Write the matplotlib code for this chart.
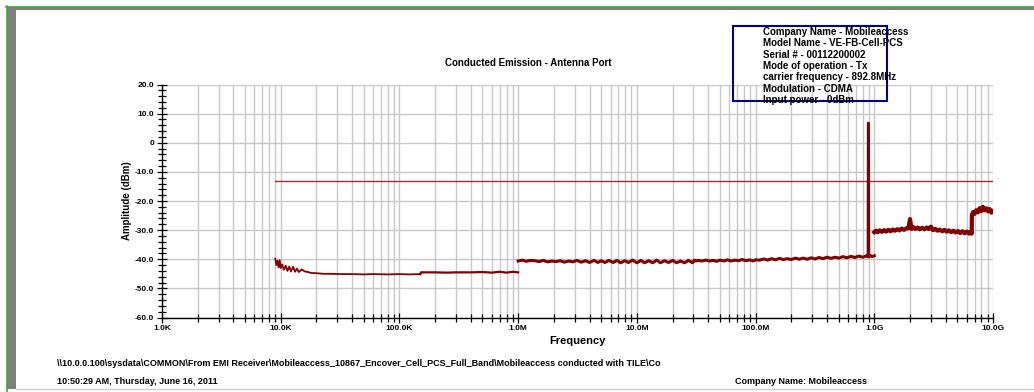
import matplotlib
matplotlib.use("Agg")
import matplotlib.pyplot as plt
from matplotlib.patches import Rectangle
from matplotlib.ticker import FixedLocator, LogLocator, NullFormatter

plt.rcParams['font.family'] = ['Liberation Sans', 'DejaVu Sans']

# ---------------- data ----------------
x_ticks = [1e3, 1e4, 1e5, 1e6, 1e7, 1e8, 1e9, 1e10]
x_tick_labels = ["1.0K", "10.0K", "100.0K", "1.0M", "10.0M", "100.0M", "1.0G", "10.0G"]
y_ticks = [20, 10, 0, -10, -20, -30, -40, -50, -60]
y_tick_labels = ["20.0", "10.0", "0", "-10.0", "-20.0", "-30.0", "-40.0", "-50.0", "-60.0"]

limit_freq = [9e3, 1e10]
limit_dbm = [-13.0, -13.0]

# 9 kHz - 150 kHz  (Hz)
freq_a = [9.0e3, 9.2e3, 9.4e3, 9.6e3, 9.8e3, 1.0e4, 1.03e4, 1.06e4, 1.1e4, 1.14e4,
          1.18e4, 1.22e4, 1.27e4, 1.32e4, 1.37e4, 1.42e4, 1.5e4, 1.6e4, 1.7e4, 1.8e4,
          2.0e4, 2.3e4, 2.7e4, 3.2e4, 4e4, 5e4, 6e4, 8e4, 1.0e5, 1.2e5, 1.5e5]
amp_a = [-39.8, -42.0, -40.5, -42.8, -40.3, -43.0, -41.8, -43.6, -42.2, -44.0,
         -42.5, -44.2, -42.6, -44.3, -43.2, -44.4, -43.5, -44.2, -44.4, -44.7,
         -44.8, -45.0, -45.0, -45.1, -45.1, -45.2, -45.1, -45.2, -45.1, -45.2, -45.1]

# 150 kHz - 1 MHz  (Hz)
freq_b = [1.5e5, 1.52e5, 2e5, 2.5e5, 3e5, 4e5, 5e5, 6e5, 7e5, 8e5, 9e5, 1.0e6]
amp_b = [-45.1, -44.5, -44.5, -44.6, -44.5, -44.5, -44.4, -44.6, -44.3, -44.6, -44.3, -44.5]

# 1 MHz - 1 GHz, incl. carrier at 892.8 MHz  (MHz)
freq_c_mhz = [1.0, 1.08, 1.17, 1.27, 1.38, 1.5, 1.63, 1.77, 1.92, 2.08,
              2.26, 2.45, 2.66, 2.89, 3.13, 3.4, 3.69, 4.0, 4.35, 4.7,
              5.0, 5.4, 5.8, 6.3, 6.8, 7.3, 7.9, 8.5, 9.2, 10,
              10.8, 11.6, 12.6, 13.6, 14.7, 15.8, 17.1, 18.5, 20, 21.6,
              23.3, 25.2, 27.2, 29.4, 30.5,
              31, 33, 35.5, 38, 41, 44, 47, 50, 54, 58,
              62, 67, 72, 77, 83, 89, 95, 100,
              108, 117, 126, 136, 147, 159, 171, 185, 200, 216,
              233, 252, 272, 294, 317, 343, 370, 400, 432, 466,
              504, 544, 588, 635, 686, 741, 800, 864, 888, 892.8,
              897, 925, 960, 1000]
amp_c = [-40.6, -40.3, -40.7, -40.4, -40.5, -40.8, -40.4, -40.9, -40.6, -40.8,
         -40.5, -41.0, -40.6, -40.9, -40.4, -41.0, -40.5, -41.1, -40.4, -41.1,
         -40.5, -41.1, -40.4, -41.1, -40.4, -41.2, -40.5, -41.1, -40.3, -41.2,
         -40.4, -41.2, -40.5, -41.2, -40.3, -41.2, -40.5, -41.1, -40.4, -41.2,
         -40.6, -41.2, -40.4, -41.2, -40.3,
         -40.6, -40.4, -40.6, -40.3, -40.6, -40.4, -40.7, -40.3, -40.6, -40.2,
         -40.6, -40.3, -40.5, -40.1, -40.5, -40.2, -40.6, -40.2,
         -40.3, -39.9, -40.3, -39.8, -40.2, -39.7, -40.1, -39.8, -40.1, -39.6,
         -40.0, -39.6, -40.0, -39.5, -39.9, -39.4, -39.8, -39.3, -39.7, -39.3,
         -39.6, -39.1, -39.5, -39.0, -39.4, -38.9, -39.3, -38.8, -39.1, 6.7,
         -39.2, -38.7, -39.1, -38.8]

# 1 GHz - 10 GHz  (GHz)
freq_d_ghz = [1.00, 1.03, 1.07, 1.11, 1.16, 1.21, 1.26, 1.31, 1.37, 1.43,
              1.49, 1.56, 1.63, 1.70, 1.78, 1.86, 1.94, 2.0, 2.06, 2.13,
              2.22, 2.32, 2.42, 2.53, 2.64, 2.76, 2.88, 3.0, 3.13, 3.27,
              3.42, 3.57, 3.73, 3.9, 4.07, 4.25, 4.44, 4.64, 4.85, 5.07,
              5.3, 5.53, 5.78, 6.04, 6.3, 6.55, 6.62, 6.64, 6.8, 7.0,
              7.2, 7.45, 7.7, 7.95, 8.2, 8.5, 8.8, 9.1, 9.4, 9.7, 10.0]
amp_d = [-30.7, -30.2, -30.7, -30.1, -30.6, -30.0, -30.5, -29.9, -30.4, -29.8,
         -30.2, -29.7, -30.1, -29.5, -29.9, -29.4, -29.3, -26.2, -29.6, -29.0,
         -29.6, -29.1, -29.7, -29.2, -29.7, -29.1, -29.6, -28.8, -30.0, -29.6,
         -30.2, -29.8, -30.4, -29.9, -30.5, -30.1, -30.7, -30.2, -30.8, -30.3,
         -31.0, -30.4, -31.1, -30.5, -31.2, -30.6, -31.2, -24.8, -23.8, -24.4,
         -23.2, -23.9, -22.5, -23.5, -22.0, -23.2, -22.5, -23.6, -22.8, -24.0, -23.5]

info_lines = ["Company Name - Mobileaccess",
              "Model Name - VE-FB-Cell-PCS",
              "Serial # - 00112200002",
              "Mode of operation - Tx",
              "carrier frequency - 892.8MHz",
              "Modulation - CDMA",
              "Input power - 0dBm"]

freq_c = [f * 1e6 for f in freq_c_mhz]
freq_d = [f * 1e9 for f in freq_d_ghz]

# ---------------- figure ----------------
W, H = 1034, 392
fig = plt.figure(figsize=(W / 100, H / 100), dpi=100)
fig.patch.set_facecolor("white")

def px(x, y):
    return x / W, 1 - y / H

# frame decorations
fig.patches.append(Rectangle((7 / W, 1 - 389 / H), 9 / W, 379 / H, transform=fig.transFigure,
                             facecolor="#808080", edgecolor="none", zorder=0))
fig.patches.append(Rectangle((7 / W, 1 - 10 / H), 1 - 7 / W, 3 / H, transform=fig.transFigure,
                             facecolor="#808080", edgecolor="none", zorder=0))
fig.add_artist(plt.Line2D([6 / W, 1], [1 - 6.5 / H, 1 - 6.5 / H], transform=fig.transFigure,
                          color="#3caa3c", lw=1.2))
fig.add_artist(plt.Line2D([6.5 / W, 6.5 / W], [1 - 6 / H, 0], transform=fig.transFigure,
                          color="#3caa3c", lw=1.2))
fig.add_artist(plt.Line2D([16 / W, 1], [1 - 389 / H, 1 - 389 / H], transform=fig.transFigure,
                          color="#d0d0d0", lw=1.0))

ax = fig.add_axes([162 / W, 1 - 317.5 / H, (993 - 162) / W, (317.5 - 84.5) / H])
ax.set_xscale("log")
ax.set_xlim(1e3, 1e10)
ax.set_ylim(-60, 20)

ax.xaxis.set_major_locator(FixedLocator(x_ticks))
ax.set_xticklabels(x_tick_labels)
ax.xaxis.set_minor_locator(LogLocator(base=10, subs=[2, 3, 4, 5, 6, 7, 8, 9], numticks=20))
ax.xaxis.set_minor_formatter(NullFormatter())
ax.yaxis.set_major_locator(FixedLocator(y_ticks))
ax.set_yticklabels(y_tick_labels)
ax.yaxis.set_minor_locator(FixedLocator(list(range(-60, 21, 2))))

ax.grid(True, which="major", axis="both", color="#c8c8c8", lw=1.0)
ax.grid(True, which="minor", axis="x", color="#c8c8c8", lw=1.0)
ax.set_axisbelow(True)

for s in ("top", "right"):
    ax.spines[s].set_visible(False)
for s in ("left", "bottom"):
    ax.spines[s].set_color("black")
    ax.spines[s].set_linewidth(1.0)

ax.tick_params(which="both", direction="inout", length=7, width=0.9, color="black",
               labelsize=6, pad=2)
ax.tick_params(which="minor", length=6)
for lab in ax.get_xticklabels() + ax.get_yticklabels():
    lab.set_fontweight("bold")

ax.plot(limit_freq, limit_dbm, color="#b02828", lw=1.0, zorder=3)
ax.plot(freq_a, amp_a, color="#800000", lw=1.3, zorder=4)
ax.plot(freq_b, amp_b, color="#800000", lw=1.6, zorder=4)
ax.plot(freq_c, amp_c, color="#800000", lw=2.2, zorder=4)
ax.plot(freq_d, amp_d, color="#800000", lw=3.0, zorder=4)

ax.set_xlabel("Frequency", fontsize=8, fontweight="bold", labelpad=3)
ax.set_ylabel("Amplitude (dBm)", fontsize=7, fontweight="bold", labelpad=2)

fig.text(*px(528, 63), "Conducted Emission - Antenna Port", ha="center", va="center",
         fontsize=7, fontweight="bold")

# info box
fig.patches.append(Rectangle(px(733, 101), 154 / W, 75 / H, transform=fig.transFigure,
                             facecolor="none", edgecolor="#000080", lw=1.5, zorder=5))
for i, line in enumerate(info_lines):
    fig.text(*px(763, 32 + i * 11.3), line, ha="left", va="center", fontsize=7,
             fontweight="bold", zorder=6)

fig.text(*px(57, 363), r"\\10.0.0.100\sysdata\COMMON\From EMI Receiver\Mobileaccess_10867_Encover_Cell_PCS_Full_Band\Mobileaccess conducted with TILE\Co",
         ha="left", va="center", fontsize=6.5, fontweight="bold")
fig.text(*px(57, 382), "10:50:29 AM, Thursday, June 16, 2011", ha="left", va="center",
         fontsize=6.5, fontweight="bold")
fig.text(*px(735, 382), "Company Name: Mobileaccess", ha="left", va="center",
         fontsize=6.5, fontweight="bold")

fig.savefig("out.png", dpi=100)
